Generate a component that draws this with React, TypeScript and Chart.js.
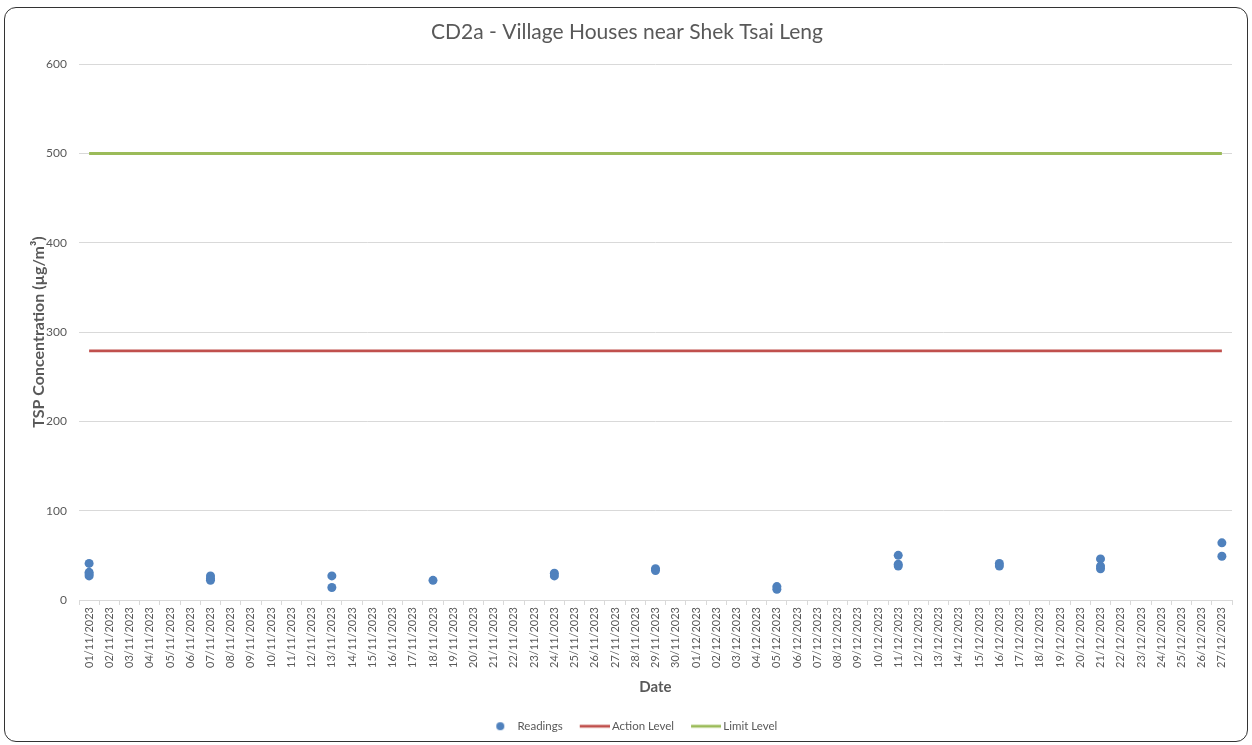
import React, { useEffect, useRef } from 'react';
import { Chart, registerables } from 'chart.js';

Chart.register(...registerables);

const dates: string[] = [
  '01/11/2023', '02/11/2023', '03/11/2023', '04/11/2023', '05/11/2023', '06/11/2023', '07/11/2023',
  '08/11/2023', '09/11/2023', '10/11/2023', '11/11/2023', '12/11/2023', '13/11/2023', '14/11/2023',
  '15/11/2023', '16/11/2023', '17/11/2023', '18/11/2023', '19/11/2023', '20/11/2023', '21/11/2023',
  '22/11/2023', '23/11/2023', '24/11/2023', '25/11/2023', '26/11/2023', '27/11/2023', '28/11/2023',
  '29/11/2023', '30/11/2023', '01/12/2023', '02/12/2023', '03/12/2023', '04/12/2023', '05/12/2023',
  '06/12/2023', '07/12/2023', '08/12/2023', '09/12/2023', '10/12/2023', '11/12/2023', '12/12/2023',
  '13/12/2023', '14/12/2023', '15/12/2023', '16/12/2023', '17/12/2023', '18/12/2023', '19/12/2023',
  '20/12/2023', '21/12/2023', '22/12/2023', '23/12/2023', '24/12/2023', '25/12/2023', '26/12/2023',
  '27/12/2023',
];

const readingDates: string[] = [
  '01/11/2023', '01/11/2023', '01/11/2023', '01/11/2023',
  '07/11/2023', '07/11/2023', '07/11/2023',
  '13/11/2023', '13/11/2023',
  '18/11/2023',
  '24/11/2023', '24/11/2023',
  '29/11/2023', '29/11/2023',
  '05/12/2023', '05/12/2023',
  '11/12/2023', '11/12/2023', '11/12/2023',
  '16/12/2023', '16/12/2023',
  '21/12/2023', '21/12/2023', '21/12/2023',
  '27/12/2023', '27/12/2023',
];

const readingValues: number[] = [
  41, 31, 27, 29,
  27, 24, 22,
  27, 14,
  22,
  30, 27,
  35, 33,
  15, 12,
  50, 40, 38,
  41, 38,
  46, 38, 35,
  64, 49,
];

const actionLevel = 279;
const limitLevel = 500;

const seriesNames = ['Readings', 'Action Level', 'Limit Level'];
const seriesColors = ['#4F81BD', '#C0504D', '#9BBB59'];
const yTicks = [0, 100, 200, 300, 400, 500, 600];

const FONT = 'Lato';
const TEXT = '#595959';
const GRID = '#D9D9D9';

function makeSymbol(kind: 'circle' | 'line', color: string): HTMLCanvasElement {
  const c = document.createElement('canvas');
  c.width = 42;
  c.height = 10;
  const ctx = c.getContext('2d')!;
  ctx.fillStyle = color;
  if (kind === 'circle') {
    ctx.beginPath();
    ctx.arc(27, 5, 4, 0, Math.PI * 2);
    ctx.fill();
  } else {
    ctx.fillRect(12, 3.6, 30, 2.8);
  }
  return c;
}

export default function App() {
  const ref = useRef<HTMLCanvasElement>(null);

  useEffect(() => {
    document.body.style.margin = '0';
    if (!ref.current) return;
    Chart.defaults.font.family = FONT;

    const symbols = [
      makeSymbol('circle', seriesColors[0]),
      makeSymbol('line', seriesColors[1]),
      makeSymbol('line', seriesColors[2]),
    ];

    const chart = new Chart(ref.current, {
      type: 'line',
      data: {
        labels: dates,
        datasets: [
          {
            label: seriesNames[0],
            data: readingDates.map((d, i) => ({ x: d, y: readingValues[i] })),
            showLine: false,
            backgroundColor: seriesColors[0],
            borderColor: seriesColors[0],
            pointRadius: 4.5,
            pointBorderWidth: 0,
            pointHoverRadius: 4.5,
            order: 0,
          },
          {
            label: seriesNames[1],
            data: dates.map(() => actionLevel),
            borderColor: seriesColors[1],
            backgroundColor: seriesColors[1],
            borderWidth: 2.8,
            pointRadius: 0,
            order: 1,
          },
          {
            label: seriesNames[2],
            data: dates.map(() => limitLevel),
            borderColor: seriesColors[2],
            backgroundColor: seriesColors[2],
            borderWidth: 2.8,
            pointRadius: 0,
            order: 2,
          },
        ],
      },
      options: {
        responsive: false,
        animation: false,
        events: [],
        layout: { padding: { left: 22, right: 20, top: 10, bottom: 3 } },
        plugins: {
          tooltip: { enabled: false },
          title: {
            display: true,
            text: 'CD2a - Village Houses near Shek Tsai Leng',
            color: TEXT,
            font: { family: FONT, size: 21, weight: 'normal' },
            padding: { top: 10, bottom: 19 },
          },
          legend: {
            position: 'bottom',
            labels: {
              usePointStyle: true,
              pointStyleWidth: 35,
              padding: 8.5,
              color: TEXT,
              font: { family: FONT, size: 11.5 },
              generateLabels: (ch: any) =>
                ch.data.datasets.map((ds: any, i: number) => ({
                  text: ds.label,
                  fillStyle: seriesColors[i],
                  strokeStyle: seriesColors[i],
                  lineWidth: 0,
                  pointStyle: symbols[i],
                  hidden: false,
                  datasetIndex: i,
                  fontColor: TEXT,
                })),
            },
          },
        },
        scales: {
          x: {
            type: 'category',
            offset: true,
            grid: {
              offset: true,
              drawOnChartArea: false,
              color: GRID,
              tickLength: 5,
            },
            border: { color: GRID },
            ticks: {
              autoSkip: false,
              maxRotation: 90,
              minRotation: 90,
              color: TEXT,
              font: { family: FONT, size: 11 },
              padding: 2,
            },
            title: {
              display: true,
              text: 'Date',
              color: TEXT,
              font: { family: FONT, size: 15, weight: 'bold' },
              padding: { top: 4, bottom: 16 },
            },
            afterFit: (s: any) => {
              s.height = 112;
            },
          },
          y: {
            min: 0,
            max: 600,
            afterBuildTicks: (s: any) => {
              s.ticks = yTicks.map((v) => ({ value: v }));
            },
            grid: { color: GRID, drawTicks: false },
            border: { display: false },
            ticks: {
              color: TEXT,
              font: { family: FONT, size: 12 },
              padding: 12,
            },
            title: {
              display: true,
              text: 'TSP Concentration (µg/m³)',
              color: TEXT,
              font: { family: FONT, size: 16, weight: 'bold' },
              padding: { top: 7, bottom: 4 },
            },
            afterFit: (s: any) => {
              s.width = 57;
            },
          },
        },
      },
    });
    return () => chart.destroy();
  }, []);

  return (
    <div style={{ position: 'relative', width: 1252, height: 745, background: '#fff' }}>
      <div
        style={{
          position: 'absolute',
          left: 4,
          top: 7,
          width: 1244,
          height: 735,
          border: '1.5px solid #333',
          borderRadius: 12,
          boxSizing: 'border-box',
        }}
      />
      <canvas
        ref={ref}
        width={1252}
        height={745}
        style={{ position: 'absolute', left: 0, top: 0, width: 1252, height: 745 }}
      />
    </div>
  );
}
